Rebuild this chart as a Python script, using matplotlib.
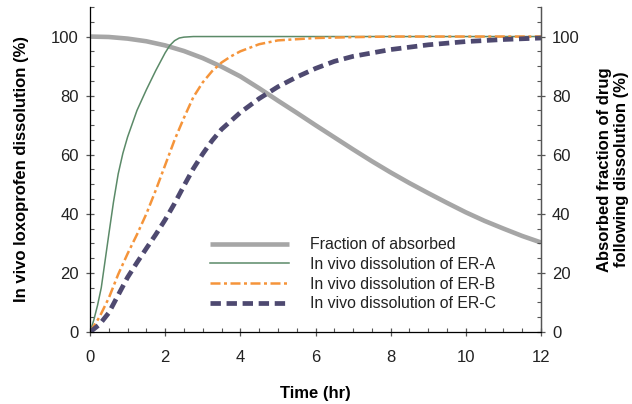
import matplotlib
matplotlib.use("Agg")
import matplotlib.pyplot as plt
from matplotlib.ticker import MultipleLocator

plt.rcParams['font.family'] = ['Liberation Sans', 'DejaVu Sans']

# ---- data ----
t_abs = [0, 0.5, 1, 1.5, 2, 2.5, 3, 3.5, 4, 4.5, 5, 5.5, 6, 6.5, 7, 7.5, 8, 8.5, 9, 9.5, 10, 10.5, 11, 11.5, 12]
frac_abs = [100, 99.85, 99.3, 98.4, 97, 95.1, 92.7, 89.8, 86.5, 82.5, 78.3, 74.2, 70, 65.9, 61.8, 57.8, 54,
            50.4, 47, 43.7, 40.5, 37.6, 35, 32.5, 30.3]

t_a = [0, 0.1, 0.2, 0.3, 0.4, 0.5, 0.625, 0.75, 0.875, 1, 1.25, 1.5, 1.75, 2, 2.125, 2.25, 2.375, 2.5, 2.75, 3,
       4, 6, 8, 10, 12]
er_a = [0, 4, 9, 15, 24, 33, 44, 53.5, 60.5, 66, 75, 82, 88.5, 94.5, 97, 98.6, 99.5, 99.8, 100, 100,
        100, 100, 100, 100, 100]

t_b = [0, 0.25, 0.5, 0.75, 1, 1.25, 1.5, 1.75, 2, 2.25, 2.5, 2.75, 3, 3.25, 3.5, 3.75, 4, 4.5, 5, 6, 7, 8, 10, 12]
er_b = [0, 5, 11.5, 19.5, 26.5, 33, 40, 48, 56.5, 65, 72.5, 79.5, 84.5, 88.3, 91.2, 93.3, 95, 97.4, 98.7,
        99.5, 99.8, 100, 100, 100]

t_c = [0, 0.25, 0.5, 0.75, 1, 1.25, 1.5, 1.75, 2, 2.25, 2.5, 2.75, 3, 3.25, 3.5, 4, 4.5, 5, 5.5, 6, 6.5, 7, 8,
       9, 10, 11, 12]
er_c = [0, 2.5, 6.5, 12.5, 18.5, 23.5, 28.3, 33, 38, 43.5, 49.5, 55.3, 60.3, 64.8, 68.6, 74.3, 79, 83, 86.3,
        89.2, 91.6, 93.3, 95.6, 97.2, 98.3, 99, 99.5]

labels = ["Fraction of absorbed", "In vivo dissolution of ER-A",
          "In vivo dissolution of ER-B", "In vivo dissolution of ER-C"]
x_ticks = [0, 2, 4, 6, 8, 10, 12]
y_ticks = [0, 20, 40, 60, 80, 100]

# ---- figure ----
fig = plt.figure(figsize=(6.32, 4.04), dpi=100)
ax = fig.add_axes([90/632, 1 - 332/404, 451/632, 325/404])

c_gray = '#a6a6a6'
c_green = '#5b8a68'
c_orange = '#f5943a'
c_navy = '#4e4970'

ax.plot(t_abs, frac_abs, color=c_gray, lw=3.3, label=labels[0], solid_capstyle='butt')
ax.plot(t_a, er_a, color=c_green, lw=1.1, label=labels[1])
ax.plot(t_b, er_b, color=c_orange, lw=1.8, dashes=(4.0, 1.4, 1.2, 1.4), label=labels[2])
ax.plot(t_c, er_c, color=c_navy, lw=3.4, dashes=(2.2, 1.2), label=labels[3])

ax.set_xlim(0, 12)
ax.set_ylim(0, 110)
ax.set_xticks(x_ticks)
ax.set_yticks(y_ticks)
ax.xaxis.set_minor_locator(MultipleLocator(0.5))
ax.yaxis.set_minor_locator(MultipleLocator(5))

spine_c = '#555555'
for s in ['left', 'bottom', 'right']:
    ax.spines[s].set_color(spine_c)
    ax.spines[s].set_linewidth(0.9)
ax.spines['top'].set_visible(False)

ax.tick_params(axis='both', which='major', direction='inout', length=6, width=0.9, color=spine_c,
               labelsize=12, labelcolor='#222222', pad=5)
ax.tick_params(axis='both', which='minor', direction='in', length=3, width=0.8, color=spine_c)
ax.tick_params(axis='x', which='major', pad=10)

ax2 = ax.twinx()
ax2.set_ylim(0, 110)
ax2.set_yticks(y_ticks)
ax2.yaxis.set_minor_locator(MultipleLocator(5))
ax2.spines['top'].set_visible(False)
ax2.spines['right'].set_color(spine_c)
ax2.spines['right'].set_linewidth(0.9)
ax2.tick_params(axis='y', which='major', direction='inout', length=6, width=0.9, color=spine_c,
                labelsize=12, labelcolor='#222222', pad=5)
ax2.tick_params(axis='y', which='minor', direction='in', length=3, width=0.8, color=spine_c)

ax.set_xlabel("Time (hr)", fontsize=12, fontweight='bold', labelpad=15)
ax.set_ylabel("In vivo loxoprofen dissolution (%)", fontsize=12, fontweight='bold', labelpad=16)
ax2.set_ylabel("Absorbed fraction of drug\nfollowing dissolution (%)", fontsize=12, fontweight='bold',
               labelpad=12)

leg = ax.legend(loc='upper left', bbox_to_anchor=((199 - 90) / 451, (332 - 226) / 325),
                frameon=False, fontsize=11.4, handlelength=5.0, handletextpad=1.3,
                labelspacing=0.3, borderpad=0.2)
for txt in leg.get_texts():
    txt.set_color('#222222')

fig.savefig("out.png", dpi=100)
